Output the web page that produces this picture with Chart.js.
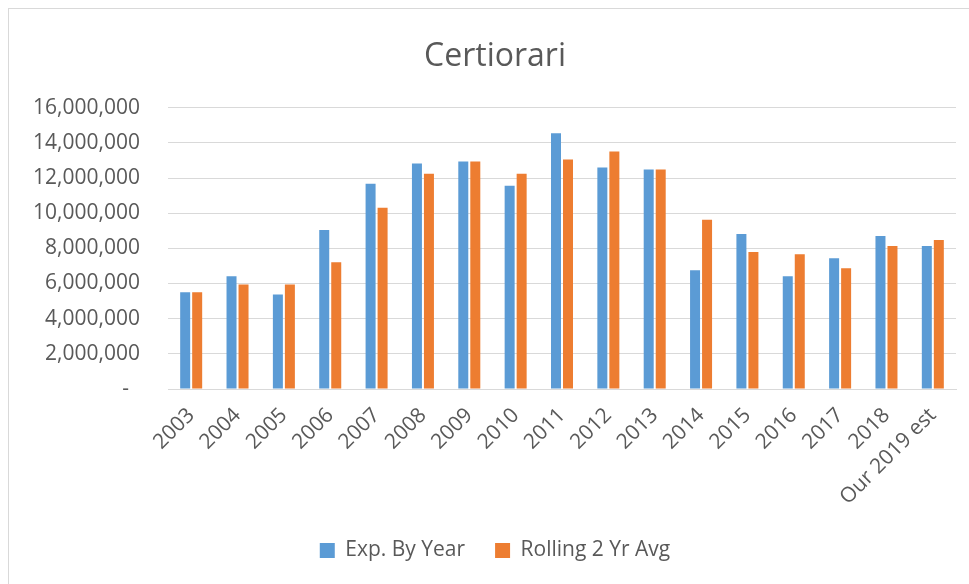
<!DOCTYPE html>
<html>
<head>
<meta charset="utf-8">
<title>Certiorari</title>
<script src="https://cdn.jsdelivr.net/npm/chart.js@4.4.1/dist/chart.umd.min.js"></script>
<style>
    html, body { margin: 0; padding: 0; background: #fff; overflow: hidden; }
    #frame { position: absolute; left: 8px; top: 8px; width: 1000px; height: 1000px;
             border-top: 1px solid #d9d9d9; border-left: 1px solid #d9d9d9; }
    #wrap { position: absolute; left: 8px; top: 8px; width: 974px; height: 576px; }
</style>
</head>
<body>
<div id="frame"></div>
<div id="wrap"><canvas id="chart" width="974" height="576"></canvas></div>
<script>
// Categories
const years = ['2003', '2004', '2005', '2006', '2007', '2008', '2009', '2010', '2011',
               '2012', '2013', '2014', '2015', '2016', '2017', '2018', 'Our 2019 est'];

// Series values
const expByYear = [5500000, 6410000, 5380000, 9050000, 11680000, 12820000, 12940000, 11560000,
                   14540000, 12600000, 12480000, 6760000, 8820000, 6410000, 7440000, 8700000, 8130000];
const rolling2Yr = [5500000, 5950000, 5950000, 7210000, 10310000, 12250000, 12940000, 12250000,
                    13050000, 13510000, 12480000, 9620000, 7790000, 7670000, 6870000, 8130000, 8470000];

// Axis
const yMax = 16000000;
const yStep = 2000000;

const TEXT = '#595959';
const GRID = '#d9d9d9';
const FONT = "'Open Sans', 'Noto Sans', sans-serif";

// Excel accounting style: zero shows as a dash
const formatTick = (v) => v === 0 ? '-  ' : new Intl.NumberFormat('en-US').format(v);

document.addEventListener('DOMContentLoaded', () => {
    Chart.defaults.font.family = FONT;
    Chart.defaults.color = TEXT;

    new Chart(document.getElementById('chart').getContext('2d'), {
        type: 'bar',
        data: {
            labels: years,
            datasets: [
                {
                    label: 'Exp. By Year',
                    data: expByYear,
                    backgroundColor: '#5b9bd5',
                    categoryPercentage: 0.518,
                    barPercentage: 0.833
                },
                {
                    label: 'Rolling 2 Yr Avg',
                    data: rolling2Yr,
                    backgroundColor: '#ed7d31',
                    categoryPercentage: 0.518,
                    barPercentage: 0.833
                }
            ]
        },
        options: {
            responsive: false,
            animation: false,
            layout: { padding: { top: 0, left: 26, right: 26, bottom: 13 } },
            plugins: {
                title: {
                    display: true,
                    text: 'Certiorari',
                    color: TEXT,
                    font: { size: 32, weight: 'normal' },
                    padding: { top: 29.6, bottom: 31.7 }
                },
                legend: {
                    position: 'bottom',
                    labels: {
                        color: TEXT,
                        font: { size: 21 },
                        boxWidth: 15,
                        boxHeight: 15,
                        padding: 30
                    }
                },
                tooltip: { enabled: false }
            },
            scales: {
                x: {
                    grid: { display: false },
                    border: { color: GRID },
                    ticks: {
                        color: TEXT,
                        font: { size: 21 },
                        minRotation: 45,
                        maxRotation: 45,
                        autoSkip: false,
                        padding: 6
                    },
                    afterFit: (scale) => { scale.height = 121; }
                },
                y: {
                    min: 0,
                    max: yMax,
                    grid: { color: GRID, drawTicks: false },
                    border: { display: false },
                    ticks: {
                        stepSize: yStep,
                        padding: 28,
                        color: TEXT,
                        font: { size: 21 },
                        callback: formatTick
                    },
                    afterFit: (scale) => { scale.width = 134; }
                }
            }
        }
    });
});
</script>
</body>
</html>
